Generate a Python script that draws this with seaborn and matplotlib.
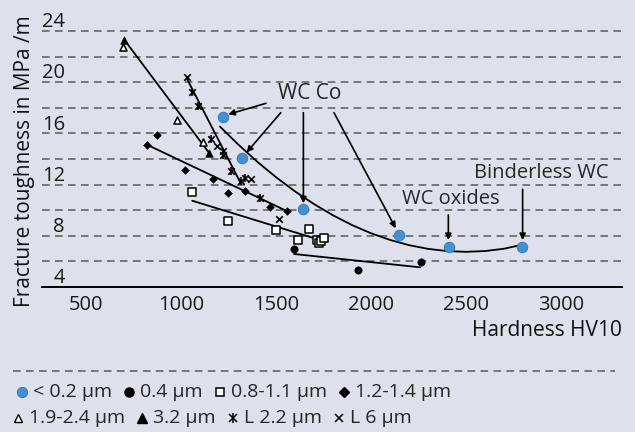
import matplotlib
matplotlib.use("Agg")
import matplotlib.pyplot as plt
from matplotlib.lines import Line2D
import seaborn as sns

# data (hardness HV10, fracture toughness)
blue_x = [1221, 1319, 1644, 2149, 2409, 2796]
blue_y = [17.3, 14.05, 10.07, 8.06, 7.15, 7.15]
# trend curve of the blue series
blue_fit_x = [1205, 1300, 1400, 1500, 1600, 1700, 1800, 1900, 2000, 2100,
              2200, 2300, 2400, 2500, 2600, 2700, 2795]
blue_fit_y = [16.53, 15.15, 13.8, 12.58, 11.47, 10.48, 9.6, 8.84, 8.2, 7.68,
              7.27, 6.98, 6.81, 6.75, 6.81, 6.99, 7.3]

dot_x = [1595, 1933, 2262]
dot_y = [6.95, 5.33, 5.93]
dot_fit_x = [1595, 2258]
dot_fit_y = [6.58, 5.54]

square_x = [1059, 1249, 1498, 1675, 1614, 1714, 1726, 1737, 1754]
square_y = [11.45, 9.16, 8.45, 8.53, 7.67, 7.67, 7.4, 7.6, 7.85]
square_fit_x = [1059, 1732]
square_fit_y = [10.74, 7.67]

diamond_x = [872, 823, 1021, 1170, 1249, 1337, 1468, 1556]
diamond_y = [15.9, 15.1, 13.14, 12.44, 11.37, 11.52, 10.23, 9.94]
diamond_fit_x = [823, 1556]
diamond_fit_y = [15.1, 9.94]

tri_x = [702, 1147]
tri_y = [23.3, 14.49]

open_tri_x = [693, 980, 1116]
open_tri_y = [22.77, 17.05, 15.33]

l6_x = [1030, 1188, 1219, 1367, 1518]
l6_y = [20.38, 15.04, 14.65, 12.44, 9.31]
l22_x = [1060, 1088, 1158, 1219, 1263, 1316, 1337, 1416]
l22_y = [19.26, 18.14, 15.6, 14.31, 13.06, 12.3, 12.5, 10.93]
l_fit_x = [1030, 1311]
l_fit_y = [20.3, 12.2]

x_ticks = [500, 1000, 1500, 2000, 2500, 3000]
y_grid = [6, 8, 10, 12, 14, 16, 18, 20, 22, 24]
y_labels = [4, 8, 12, 16, 20, 24]

legend_row1 = ["< 0.2 µm", "0.4 µm", "0.8-1.1 µm", "1.2-1.4 µm"]
legend_row2 = ["1.9-2.4 µm", "3.2 µm", "L 2.2 µm", "L 6 µm"]

BG = "#dee0ec"
BLUE = "#4391d3"
GRID = "#5a5a5a"

sns.set_style("white")
plt.rcParams["font.family"] = ["Open Sans", "DejaVu Sans"]

fig = plt.figure(figsize=(6.35, 4.32), dpi=100, facecolor=BG)
ax = fig.add_axes([0.0661, 0.3356, 0.9134, 0.6223])
ax.set_facecolor(BG)

# dashed horizontal grid
for g in y_grid:
    ax.axhline(g, color=GRID, lw=1.1, ls=(0, (5, 3.5)), zorder=1)

# trend lines
line_kw = dict(color="black", lw=1.3, sort=False, estimator=None, legend=False, ax=ax, zorder=2)
sns.lineplot(x=blue_fit_x, y=blue_fit_y, **line_kw)
sns.lineplot(x=dot_fit_x, y=dot_fit_y, **line_kw)
sns.lineplot(x=square_fit_x, y=square_fit_y, **line_kw)
sns.lineplot(x=diamond_fit_x, y=diamond_fit_y, **line_kw)
sns.lineplot(x=tri_x, y=tri_y, **line_kw)
sns.lineplot(x=l_fit_x, y=l_fit_y, **line_kw)

# markers
sc = dict(ax=ax, legend=False, zorder=3)
sns.scatterplot(x=blue_x, y=blue_y, s=58, color=BLUE, edgecolor="#2c78b8", linewidth=0.6, **sc)
sns.scatterplot(x=dot_x, y=dot_y, s=28, color="black", edgecolor="black", **sc)
sns.scatterplot(x=square_x, y=square_y, marker="s", s=28, facecolor="white", edgecolor="black", linewidth=1.1, **sc)
sns.scatterplot(x=diamond_x, y=diamond_y, marker="D", s=16, color="black", edgecolor="black", **sc)
sns.scatterplot(x=tri_x, y=tri_y, marker="^", s=30, color="black", edgecolor="black", **sc)
sns.scatterplot(x=open_tri_x, y=open_tri_y, marker="^", s=26, facecolor="white", edgecolor="black", linewidth=1.1, **sc)
sns.scatterplot(x=l6_x, y=l6_y, marker="x", s=22, color="black", linewidth=1.2, **sc)
sns.scatterplot(x=l22_x, y=l22_y, marker="x", s=22, color="black", linewidth=1.2, **sc)
sns.scatterplot(x=l22_x, y=l22_y, marker="|", s=26, color="black", linewidth=1.2, **sc)

ax.set_xlim(268, 3321)
ax.set_ylim(4, 25)
ax.set_xticks(x_ticks)
ax.set_xticklabels([str(t) for t in x_ticks])
ax.set_yticks([])
ax.tick_params(axis="x", length=0, pad=6, labelsize=14.5, labelcolor="#1a1a1a")
for s in ["top", "right", "left"]:
    ax.spines[s].set_visible(False)
ax.spines["bottom"].set_color("black")
ax.spines["bottom"].set_linewidth(1.4)

for v in y_labels:
    ax.text(389, v + 0.3, str(v), ha="right", va="baseline", fontsize=14.5, color="#1a1a1a")

ax.set_xlabel("Hardness HV10", loc="right", fontsize=15, labelpad=3, color="#111111")
fig.text(25 / 635, 1 - 161 / 432, "Fracture toughness in MPa /m", rotation=90,
         ha="center", va="center", fontsize=15, color="#111111")

# annotations
arrow = dict(arrowstyle="-|>", color="black", lw=1.2, mutation_scale=9, shrinkA=0, shrinkB=0)
ax.text(1679, 19.08, "WC Co", ha="center", va="center", fontsize=15)
ax.annotate("", xy=(1249, 17.49), xytext=(1447, 18.35), arrowprops=arrow)
ax.annotate("", xy=(1345, 14.51), xytext=(1525, 17.62), arrowprops=arrow)
ax.annotate("", xy=(1644, 10.54), xytext=(1644, 17.62), arrowprops=arrow)
ax.annotate("", xy=(2130, 8.59), xytext=(1805, 17.62), arrowprops=arrow)
ax.text(2421, 10.85, "WC oxides", ha="center", va="center", fontsize=14.5)
ax.annotate("", xy=(2407, 7.67), xytext=(2407, 9.63), arrowprops=arrow)
ax.text(2897, 12.93, "Binderless WC", ha="center", va="center", fontsize=14.5)
ax.annotate("", xy=(2798, 7.67), xytext=(2798, 11.63), arrowprops=arrow)

# legend block below the chart
fig.add_artist(Line2D([13 / 635, 615 / 635], [1 - 371 / 432] * 2, color=GRID,
                      lw=1.1, ls=(0, (5, 3.5)), transform=fig.transFigure))

mk_row1 = [
    [dict(marker="o", ms=7.5, mfc=BLUE, mec="#2c78b8", mew=0.6)],
    [dict(marker="o", ms=6.5, mfc="black", mec="black")],
    [dict(marker="s", ms=6, mfc="white", mec="black", mew=1.1)],
    [dict(marker="D", ms=5, mfc="black", mec="black")],
]
mk_row2 = [
    [dict(marker="^", ms=6, mfc="white", mec="black", mew=1.0)],
    [dict(marker="^", ms=6.5, mfc="black", mec="black")],
    [dict(marker="x", ms=6, mec="black", mew=1.1), dict(marker="|", ms=7, mec="black", mew=1.1)],
    [dict(marker="x", ms=6, mec="black", mew=1.1)],
]

renderer = fig.canvas.get_renderer()


def legend_row(labels, markers, y_px, x_start):
    y = 1 - y_px / 432
    x = x_start
    for lab, mks in zip(labels, markers):
        for st in mks:
            fig.add_artist(Line2D([x / 635], [y], transform=fig.transFigure, ls="none", **st))
        t = fig.text((x + 11) / 635, y, lab, ha="left", va="center", fontsize=14)
        w = t.get_window_extent(renderer).width
        x = x + 11 + w + 17


legend_row(legend_row1, mk_row1, 392, 22)
legend_row(legend_row2, mk_row2, 418, 18)

fig.savefig("out.png", dpi=100, facecolor=BG)
